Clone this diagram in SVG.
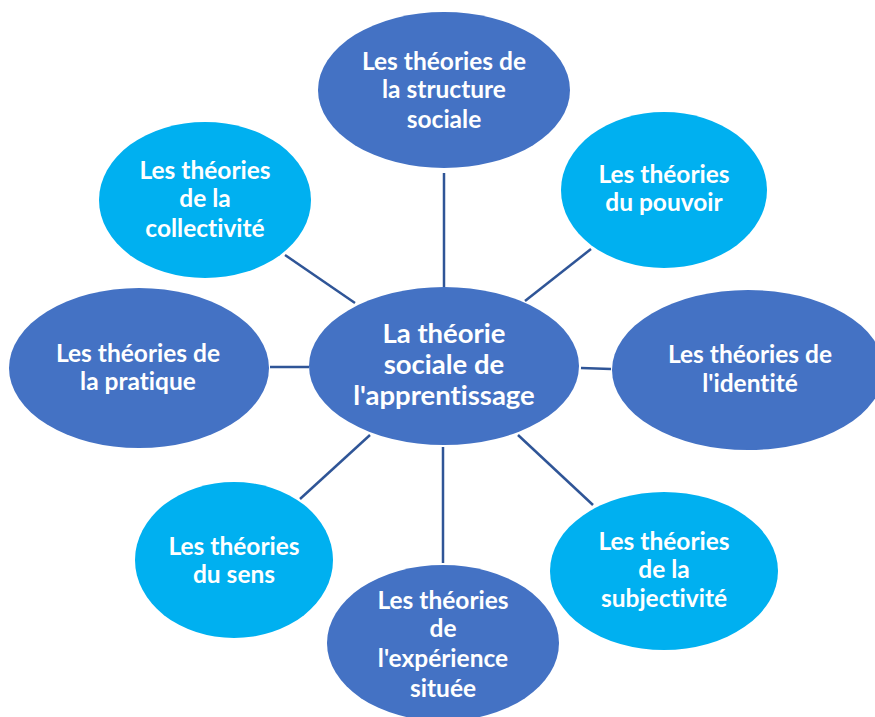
<svg xmlns="http://www.w3.org/2000/svg" width="875" height="717" viewBox="0 0 875 717">
<style>
.dark{fill:#4472C4}
.light{fill:#00B0F0}
.t{font-family:Lato,"Liberation Sans",sans-serif;font-weight:bold;fill:#fff;font-size:24.5px;text-anchor:middle;font-variant-ligatures:none;font-feature-settings:"liga" 0,"dlig" 0,"calt" 0,"clig" 0}
.tc{font-size:27.5px}
.c line{stroke:#2F5597;stroke-width:2.5}
</style>
<rect width="875" height="717" fill="#fff"/>
<g class="c" id="connectors">
<line x1="444" y1="173" x2="444" y2="287"/>
<line x1="285" y1="255" x2="355" y2="303"/>
<line x1="591" y1="249" x2="525" y2="301"/>
<line x1="270" y1="367" x2="309" y2="367"/>
<line x1="581" y1="368" x2="611" y2="369"/>
<line x1="370" y1="435" x2="300" y2="499"/>
<line x1="443" y1="447" x2="443" y2="563"/>
<line x1="518" y1="435" x2="593" y2="505"/>
</g>
<g id="structure">
<ellipse class="dark" cx="444" cy="90" rx="126" ry="78"/>
<text class="t" x="444" y="70">Les théories de</text>
<text class="t" x="444" y="98">la structure</text>
<text class="t" x="444" y="128">sociale</text>
</g>
<g id="collectivite">
<ellipse class="light" cx="205" cy="200" rx="106" ry="78"/>
<text class="t" x="205" y="179">Les théories</text>
<text class="t" x="205" y="207">de la</text>
<text class="t" x="205" y="237">collectivité</text>
</g>
<g id="pouvoir">
<ellipse class="light" cx="664" cy="190" rx="103" ry="78"/>
<text class="t" x="664" y="183">Les théories</text>
<text class="t" x="664" y="211">du pouvoir</text>
</g>
<g id="pratique">
<ellipse class="dark" cx="139" cy="368" rx="130" ry="80"/>
<text class="t" x="138" y="362">Les théories de</text>
<text class="t" x="138" y="390">la pratique</text>
</g>
<g id="centre">
<ellipse class="dark" cx="444" cy="366" rx="135" ry="79"/>
<text class="t tc" x="444" y="343">La théorie</text>
<text class="t tc" x="444" y="374">sociale de</text>
<text class="t tc" x="444" y="405">l'apprentissage</text>
</g>
<g id="identite">
<ellipse class="dark" cx="748" cy="370" rx="136" ry="80"/>
<text class="t" x="750" y="363">Les théories de</text>
<text class="t" x="750" y="392">l'identité</text>
</g>
<g id="sens">
<ellipse class="light" cx="234" cy="560" rx="99" ry="78"/>
<text class="t" x="234" y="555">Les théories</text>
<text class="t" x="234" y="583">du sens</text>
</g>
<g id="experience">
<ellipse class="dark" cx="443" cy="643" rx="116" ry="78"/>
<text class="t" x="443" y="609">Les théories</text>
<text class="t" x="443" y="637">de</text>
<text class="t" x="443" y="667">l'expérience</text>
<text class="t" x="443" y="697">située</text>
</g>
<g id="subjectivite">
<ellipse class="light" cx="664" cy="571" rx="114" ry="79"/>
<text class="t" x="664" y="550">Les théories</text>
<text class="t" x="664" y="578">de la</text>
<text class="t" x="664" y="607">subjectivité</text>
</g>
</svg>
